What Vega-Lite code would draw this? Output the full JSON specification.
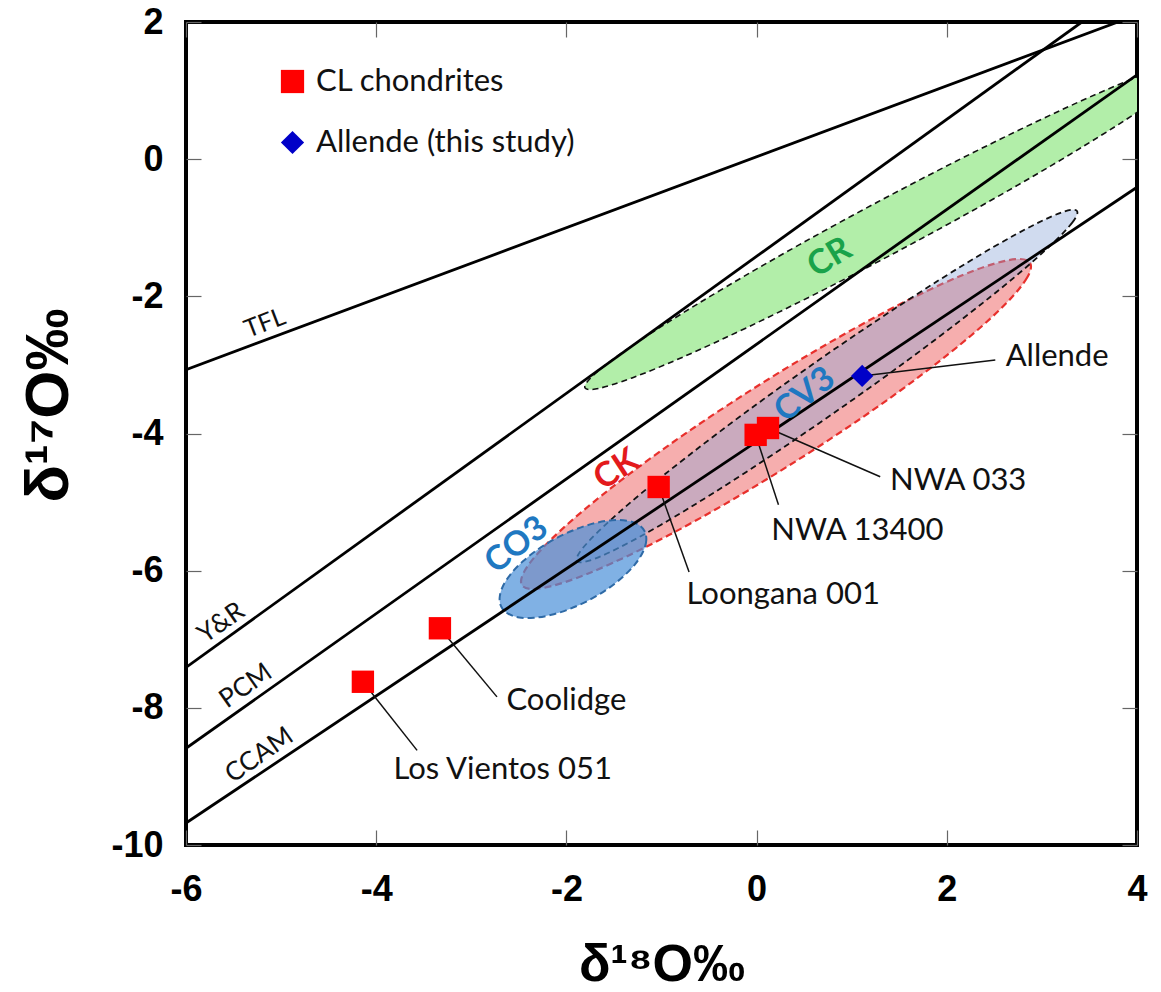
{
  "$schema": "https://vega.github.io/schema/vega-lite/v6.json",
  "width": 951,
  "height": 823,
  "autosize": {"type": "none"},
  "padding": {"left": 186, "top": 22, "right": 24, "bottom": 147},
  "background": "white",
  "config": {"view": {"stroke": "black", "strokeWidth": 4}, "font": "Lato"},
  "datasets": {
    "cr": [
      {"i":0,"x":4.610,"y":1.404},{"i":1,"x":4.535,"y":1.235},{"i":2,"x":4.246,"y":0.916},{"i":3,"x":3.763,"y":0.469},
      {"i":4,"x":3.120,"y":-0.076},{"i":5,"x":2.360,"y":-0.682},{"i":6,"x":1.534,"y":-1.307},{"i":7,"x":0.699,"y":-1.909},
      {"i":8,"x":-0.087,"y":-2.446},{"i":9,"x":-0.771,"y":-2.883},{"i":10,"x":-1.309,"y":-3.189},{"i":11,"x":-1.661,"y":-3.343},
      {"i":12,"x":-1.804,"y":-3.336},{"i":13,"x":-1.729,"y":-3.167},{"i":14,"x":-1.440,"y":-2.848},{"i":15,"x":-0.957,"y":-2.401},
      {"i":16,"x":-0.314,"y":-1.856},{"i":17,"x":0.446,"y":-1.250},{"i":18,"x":1.272,"y":-0.625},{"i":19,"x":2.107,"y":-0.023},
      {"i":20,"x":2.893,"y":0.514},{"i":21,"x":3.577,"y":0.951},{"i":22,"x":4.115,"y":1.257},{"i":23,"x":4.467,"y":1.411}
    ],
    "ck": [
      {"i":0,"x":2.875,"y":-1.512},{"i":1,"x":2.845,"y":-1.726},{"i":2,"x":2.635,"y":-2.086},{"i":3,"x":2.259,"y":-2.567},
      {"i":4,"x":1.744,"y":-3.135},{"i":5,"x":1.125,"y":-3.753},{"i":6,"x":0.441,"y":-4.379},{"i":7,"x":-0.259,"y":-4.970},
      {"i":8,"x":-0.927,"y":-5.485},{"i":9,"x":-1.517,"y":-5.889},{"i":10,"x":-1.991,"y":-6.156},{"i":11,"x":-2.315,"y":-6.266},
      {"i":12,"x":-2.467,"y":-6.212},{"i":13,"x":-2.437,"y":-5.998},{"i":14,"x":-2.227,"y":-5.638},{"i":15,"x":-1.851,"y":-5.157},
      {"i":16,"x":-1.336,"y":-4.589},{"i":17,"x":-0.717,"y":-3.971},{"i":18,"x":-0.033,"y":-3.345},{"i":19,"x":0.667,"y":-2.754},
      {"i":20,"x":1.335,"y":-2.239},{"i":21,"x":1.925,"y":-1.835},{"i":22,"x":2.399,"y":-1.568},{"i":23,"x":2.723,"y":-1.458}
    ],
    "cv3": [
      {"i":0,"x":3.369,"y":-0.755},{"i":1,"x":3.321,"y":-0.922},{"i":2,"x":3.095,"y":-1.252},{"i":3,"x":2.710,"y":-1.723},
      {"i":4,"x":2.190,"y":-2.301},{"i":5,"x":1.573,"y":-2.947},{"i":6,"x":0.897,"y":-3.619},{"i":7,"x":0.211,"y":-4.269},
      {"i":8,"x":-0.439,"y":-4.854},{"i":9,"x":-1.008,"y":-5.333},{"i":10,"x":-1.459,"y":-5.674},{"i":11,"x":-1.759,"y":-5.854},
      {"i":12,"x":-1.889,"y":-5.861},{"i":13,"x":-1.841,"y":-5.694},{"i":14,"x":-1.615,"y":-5.364},{"i":15,"x":-1.230,"y":-4.893},
      {"i":16,"x":-0.710,"y":-4.316},{"i":17,"x":-0.093,"y":-3.669},{"i":18,"x":0.583,"y":-2.997},{"i":19,"x":1.270,"y":-2.347},
      {"i":20,"x":1.919,"y":-1.763},{"i":21,"x":2.488,"y":-1.283},{"i":22,"x":2.939,"y":-0.942},{"i":23,"x":3.239,"y":-0.762}
    ],
    "co3": [
      {"i":0,"x":-1.179,"y":-5.422},{"i":1,"x":-1.160,"y":-5.557},{"i":2,"x":-1.193,"y":-5.721},{"i":3,"x":-1.277,"y":-5.903},
      {"i":4,"x":-1.405,"y":-6.089},{"i":5,"x":-1.569,"y":-6.268},{"i":6,"x":-1.758,"y":-6.427},{"i":7,"x":-1.959,"y":-6.555},
      {"i":8,"x":-2.157,"y":-6.644},{"i":9,"x":-2.341,"y":-6.687},{"i":10,"x":-2.496,"y":-6.682},{"i":11,"x":-2.613,"y":-6.628},
      {"i":12,"x":-2.683,"y":-6.531},{"i":13,"x":-2.702,"y":-6.395},{"i":14,"x":-2.669,"y":-6.231},{"i":15,"x":-2.585,"y":-6.049},
      {"i":16,"x":-2.457,"y":-5.863},{"i":17,"x":-2.293,"y":-5.684},{"i":18,"x":-2.104,"y":-5.525},{"i":19,"x":-1.903,"y":-5.397},
      {"i":20,"x":-1.705,"y":-5.309},{"i":21,"x":-1.521,"y":-5.265},{"i":22,"x":-1.366,"y":-5.271},{"i":23,"x":-1.249,"y":-5.324}
    ],
    "lines": [
      {"line":"TFL","x1":-6,"y1":-3.07,"x2":3.80,"y2":2},
      {"line":"Y&R","x1":-6,"y1":-7.41,"x2":3.42,"y2":2},
      {"line":"PCM","x1":-6,"y1":-8.59,"x2":4,"y2":1.23},
      {"line":"CCAM","x1":-6,"y1":-9.68,"x2":4,"y2":-0.41}
    ],
    "leaders": [
      {"name":"Los Vientos 051","x1":-4.14,"y1":-7.62,"x2":-3.57,"y2":-8.62},
      {"name":"Coolidge","x1":-3.33,"y1":-6.84,"x2":-2.73,"y2":-7.84},
      {"name":"Loongana 001","x1":-1.03,"y1":-4.78,"x2":-0.71,"y2":-6.02},
      {"name":"NWA 13400","x1":-0.01,"y1":-4.02,"x2":0.23,"y2":-5.04},
      {"name":"NWA 033","x1":0.12,"y1":-3.92,"x2":1.30,"y2":-4.63},
      {"name":"Allende","x1":1.11,"y1":-3.16,"x2":2.51,"y2":-2.93}
    ],
    "points": [
      {"name":"Los Vientos 051","type":"CL chondrites","d18O":-4.14,"d17O":-7.62},
      {"name":"Coolidge","type":"CL chondrites","d18O":-3.33,"d17O":-6.84},
      {"name":"Loongana 001","type":"CL chondrites","d18O":-1.03,"d17O":-4.78},
      {"name":"NWA 13400","type":"CL chondrites","d18O":-0.01,"d17O":-4.02},
      {"name":"NWA 033","type":"CL chondrites","d18O":0.12,"d17O":-3.92},
      {"name":"Allende","type":"Allende (this study)","d18O":1.11,"d17O":-3.16}
    ],
    "ptlabels": [
      {"text":"Los Vientos 051","x":-2.67,"y":-8.91},
      {"text":"Coolidge","x":-2.00,"y":-7.90},
      {"text":"Loongana 001","x":0.28,"y":-6.36},
      {"text":"NWA 13400","x":1.06,"y":-5.42},
      {"text":"NWA 033","x":2.12,"y":-4.69},
      {"text":"Allende","x":3.16,"y":-2.88}
    ],
    "tfllabel": [{"text":"TFL","x":-5.17,"y":-2.39}],
    "linelabels": [
      {"text":"Y&R","x":-5.63,"y":-6.76},
      {"text":"PCM","x":-5.37,"y":-7.68},
      {"text":"CCAM","x":-5.23,"y":-8.69}
    ],
    "lab_cr": [{"text":"CR","x":0.77,"y":-1.44}],
    "lab_ck": [{"text":"CK","x":-1.47,"y":-4.53}],
    "lab_cv3": [{"text":"CV3","x":0.51,"y":-3.44}],
    "lab_co3": [{"text":"CO3","x":-2.52,"y":-5.63}]
  },
  "layer": [
    {
      "data": {"name": "cr"},
      "mark": {"type": "line", "interpolate": "cardinal-closed", "fill": "#b2eea9", "fillOpacity": 1, "stroke": "#111111", "strokeWidth": 1.6, "strokeDash": [6, 4], "clip": true},
      "encoding": {
        "x": {"field": "x", "type": "quantitative", "scale": {"domain": [-6, 4], "nice": false, "zero": false}, "axis": null},
        "y": {"field": "y", "type": "quantitative", "scale": {"domain": [-10, 2], "nice": false, "zero": false}, "axis": null},
        "order": {"field": "i", "type": "quantitative"}
      }
    },
    {
      "data": {"name": "ck"},
      "mark": {"type": "line", "interpolate": "cardinal-closed", "fill": "#f07878", "fillOpacity": 0.6, "stroke": "#e8302c", "strokeWidth": 2.2, "strokeDash": [7, 4], "clip": true},
      "encoding": {
        "x": {"field": "x", "type": "quantitative", "scale": {"domain": [-6, 4], "nice": false, "zero": false}, "axis": null},
        "y": {"field": "y", "type": "quantitative", "scale": {"domain": [-10, 2], "nice": false, "zero": false}, "axis": null},
        "order": {"field": "i", "type": "quantitative"}
      }
    },
    {
      "data": {"name": "cv3"},
      "mark": {"type": "line", "interpolate": "cardinal-closed", "fill": "#8aa4d6", "fillOpacity": 0.4, "stroke": "#111111", "strokeWidth": 1.8, "strokeDash": [6, 4], "clip": true},
      "encoding": {
        "x": {"field": "x", "type": "quantitative", "scale": {"domain": [-6, 4], "nice": false, "zero": false}, "axis": null},
        "y": {"field": "y", "type": "quantitative", "scale": {"domain": [-10, 2], "nice": false, "zero": false}, "axis": null},
        "order": {"field": "i", "type": "quantitative"}
      }
    },
    {
      "data": {"name": "co3"},
      "mark": {"type": "line", "interpolate": "cardinal-closed", "fill": "#4a90d9", "fillOpacity": 0.7, "stroke": "#2e6aa6", "strokeWidth": 2, "strokeDash": [7, 4], "clip": true},
      "encoding": {
        "x": {"field": "x", "type": "quantitative", "scale": {"domain": [-6, 4], "nice": false, "zero": false}, "axis": null},
        "y": {"field": "y", "type": "quantitative", "scale": {"domain": [-10, 2], "nice": false, "zero": false}, "axis": null},
        "order": {"field": "i", "type": "quantitative"}
      }
    },
    {
      "data": {"name": "lines"},
      "mark": {"type": "rule", "color": "black", "strokeWidth": 2.8, "clip": true},
      "encoding": {
        "x": {"field": "x1", "type": "quantitative", "scale": {"domain": [-6, 4], "nice": false, "zero": false},
              "axis": {"orient": "top", "values": [-6, -4, -2, 0, 2, 4], "labels": false, "title": null, "tickSize": -15, "tickColor": "#666666", "tickWidth": 1.2, "domain": false, "grid": false}},
        "y": {"field": "y1", "type": "quantitative", "scale": {"domain": [-10, 2], "nice": false, "zero": false},
              "axis": {"orient": "right", "values": [2, 0, -2, -4, -6, -8, -10], "labels": false, "title": null, "tickSize": -15, "tickColor": "#666666", "tickWidth": 1.2, "domain": false, "grid": false}},
        "x2": {"field": "x2"},
        "y2": {"field": "y2"}
      }
    },
    {
      "data": {"name": "leaders"},
      "mark": {"type": "rule", "color": "#111111", "strokeWidth": 1.5},
      "encoding": {
        "x": {"field": "x1", "type": "quantitative", "scale": {"domain": [-6, 4], "nice": false, "zero": false}, "axis": null},
        "y": {"field": "y1", "type": "quantitative", "scale": {"domain": [-10, 2], "nice": false, "zero": false}, "axis": null},
        "x2": {"field": "x2"},
        "y2": {"field": "y2"}
      }
    },
    {
      "data": {"name": "points"},
      "mark": {"type": "point", "filled": true, "size": 500, "opacity": 1, "strokeWidth": 0},
      "encoding": {
        "x": {"field": "d18O", "type": "quantitative", "scale": {"domain": [-6, 4], "nice": false, "zero": false},
              "axis": {"orient": "bottom", "values": [-6, -4, -2, 0, 2, 4], "labelExpr": "toString(datum.value)", "title": "δ¹⁸O‰",
                       "titleFont": "Liberation Sans", "titleFontSize": 52, "titleFontWeight": "bold", "titleColor": "black", "titlePadding": 32,
                       "labelFont": "Liberation Sans", "labelFontSize": 36, "labelFontWeight": "bold", "labelColor": "black", "labelPadding": 42,
                       "labelFlush": false, "tickSize": -15, "tickColor": "#666666", "tickWidth": 1.2, "domain": false, "grid": false}},
        "y": {"field": "d17O", "type": "quantitative", "scale": {"domain": [-10, 2], "nice": false, "zero": false},
              "axis": {"orient": "left", "values": [2, 0, -2, -4, -6, -8, -10], "labelExpr": "toString(datum.value)", "title": "δ¹⁷O‰",
                       "titleFont": "Liberation Sans", "titleFontSize": 62, "titleFontWeight": "bold", "titleColor": "black", "titlePadding": 30, "titleY": 383,
                       "labelFont": "Liberation Sans", "labelFontSize": 36, "labelFontWeight": "bold", "labelColor": "black", "labelPadding": 38,
                       "labelFlush": false, "tickSize": -15, "tickColor": "#666666", "tickWidth": 1.2, "domain": false, "grid": false}},
        "color": {"field": "type", "type": "nominal",
                  "scale": {"domain": ["CL chondrites", "Allende (this study)"], "range": ["#ff0000", "#0000c8"]},
                  "legend": {"orient": "none", "legendX": 91, "legendY": 44, "title": null, "labelFont": "Lato", "labelFontSize": 31, "labelColor": "#111111",
                             "labelLimit": 400, "symbolSize": 540, "rowPadding": 29, "labelOffset": 8, "symbolStrokeWidth": 0}},
        "shape": {"field": "type", "type": "nominal",
                  "scale": {"domain": ["CL chondrites", "Allende (this study)"], "range": ["square", "diamond"]},
                  "legend": {"orient": "none", "legendX": 91, "legendY": 44, "title": null, "labelFont": "Lato", "labelFontSize": 31, "labelColor": "#111111",
                             "labelLimit": 400, "symbolSize": 540, "rowPadding": 29, "labelOffset": 8, "symbolStrokeWidth": 0}}
      }
    },
    {
      "data": {"name": "ptlabels"},
      "mark": {"type": "text", "font": "Lato", "fontSize": 31, "color": "#111111", "align": "center", "baseline": "middle"},
      "encoding": {
        "x": {"field": "x", "type": "quantitative", "scale": {"domain": [-6, 4], "nice": false, "zero": false}, "axis": null},
        "y": {"field": "y", "type": "quantitative", "scale": {"domain": [-10, 2], "nice": false, "zero": false}, "axis": null},
        "text": {"field": "text"}
      }
    },
    {
      "data": {"name": "tfllabel"},
      "mark": {"type": "text", "font": "Lato", "fontSize": 25, "color": "#111111", "align": "center", "baseline": "middle", "angle": -21},
      "encoding": {
        "x": {"field": "x", "type": "quantitative", "scale": {"domain": [-6, 4], "nice": false, "zero": false}, "axis": null},
        "y": {"field": "y", "type": "quantitative", "scale": {"domain": [-10, 2], "nice": false, "zero": false}, "axis": null},
        "text": {"field": "text"}
      }
    },
    {
      "data": {"name": "linelabels"},
      "mark": {"type": "text", "font": "Lato", "fontSize": 26, "color": "#111111", "align": "center", "baseline": "middle", "angle": -35},
      "encoding": {
        "x": {"field": "x", "type": "quantitative", "scale": {"domain": [-6, 4], "nice": false, "zero": false}, "axis": null},
        "y": {"field": "y", "type": "quantitative", "scale": {"domain": [-10, 2], "nice": false, "zero": false}, "axis": null},
        "text": {"field": "text"}
      }
    },
    {
      "data": {"name": "lab_cr"},
      "mark": {"type": "text", "font": "Lato", "fontSize": 34, "fontWeight": "bold", "color": "#1aa34a", "align": "center", "baseline": "middle", "angle": -31},
      "encoding": {
        "x": {"field": "x", "type": "quantitative", "scale": {"domain": [-6, 4], "nice": false, "zero": false}, "axis": null},
        "y": {"field": "y", "type": "quantitative", "scale": {"domain": [-10, 2], "nice": false, "zero": false}, "axis": null},
        "text": {"field": "text"}
      }
    },
    {
      "data": {"name": "lab_ck"},
      "mark": {"type": "text", "font": "Lato", "fontSize": 34, "fontWeight": "bold", "color": "#e31a1c", "align": "center", "baseline": "middle", "angle": -33},
      "encoding": {
        "x": {"field": "x", "type": "quantitative", "scale": {"domain": [-6, 4], "nice": false, "zero": false}, "axis": null},
        "y": {"field": "y", "type": "quantitative", "scale": {"domain": [-10, 2], "nice": false, "zero": false}, "axis": null},
        "text": {"field": "text"}
      }
    },
    {
      "data": {"name": "lab_cv3"},
      "mark": {"type": "text", "font": "Lato", "fontSize": 34, "fontWeight": "bold", "color": "#1f78c1", "align": "center", "baseline": "middle", "angle": -38},
      "encoding": {
        "x": {"field": "x", "type": "quantitative", "scale": {"domain": [-6, 4], "nice": false, "zero": false}, "axis": null},
        "y": {"field": "y", "type": "quantitative", "scale": {"domain": [-10, 2], "nice": false, "zero": false}, "axis": null},
        "text": {"field": "text"}
      }
    },
    {
      "data": {"name": "lab_co3"},
      "mark": {"type": "text", "font": "Lato", "fontSize": 34, "fontWeight": "bold", "color": "#1f78c1", "align": "center", "baseline": "middle", "angle": -38},
      "encoding": {
        "x": {"field": "x", "type": "quantitative", "scale": {"domain": [-6, 4], "nice": false, "zero": false}, "axis": null},
        "y": {"field": "y", "type": "quantitative", "scale": {"domain": [-10, 2], "nice": false, "zero": false}, "axis": null},
        "text": {"field": "text"}
      }
    }
  ],
  "resolve": {"axis": {"x": "independent", "y": "independent"}}
}
